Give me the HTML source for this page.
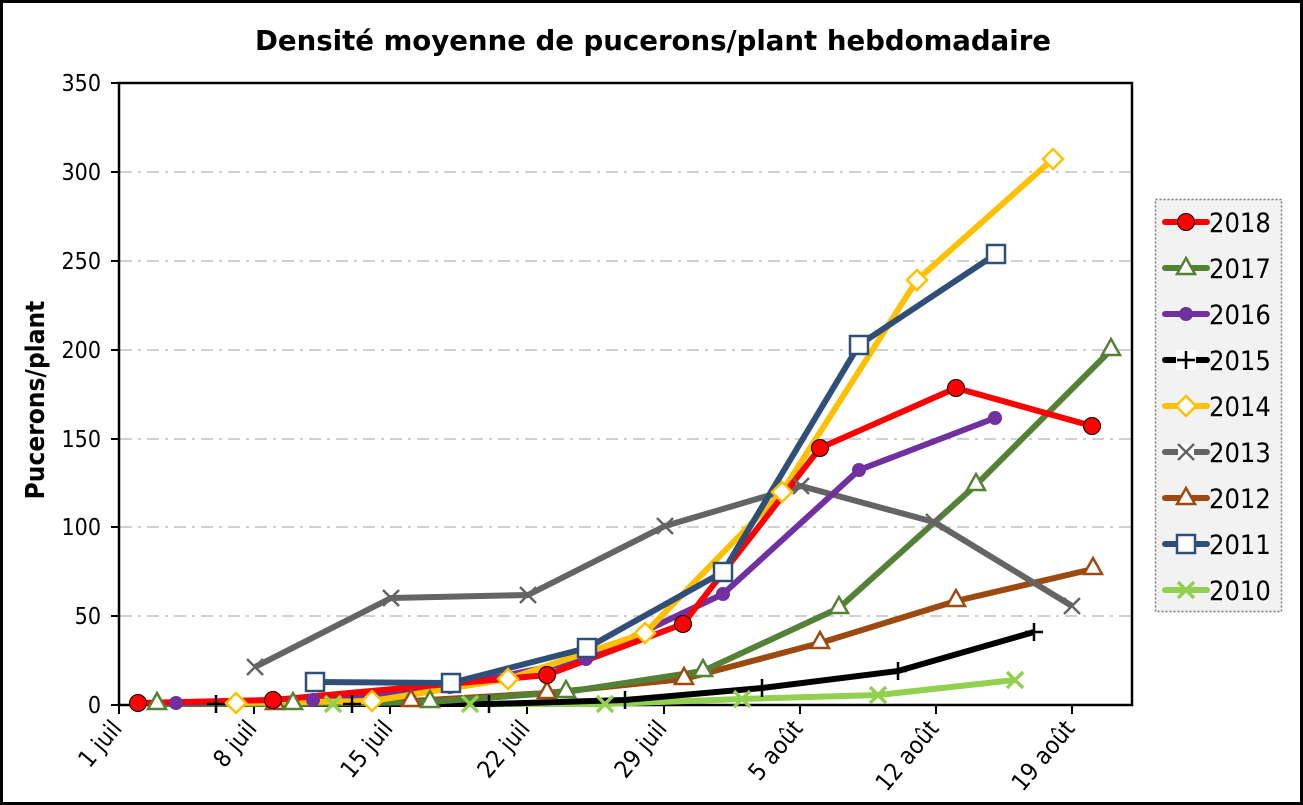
<!DOCTYPE html>
<html><head><meta charset="utf-8"><style>
html,body{margin:0;padding:0;background:#fff}
svg{display:block}
text{font-family:"DejaVu Sans Condensed","DejaVu Sans","Liberation Sans",sans-serif}
</style></head><body>
<svg width="1303" height="805" viewBox="0 0 1303 805" xmlns="http://www.w3.org/2000/svg">
<rect x="1.5" y="1.5" width="1300" height="802" fill="#fff" stroke="#000" stroke-width="3"/>
<text x="653" y="50" text-anchor="middle" font-size="28" font-weight="bold" textLength="796" lengthAdjust="spacingAndGlyphs">Densité moyenne de pucerons/plant hebdomadaire</text>
<g stroke="#d0d0d0" stroke-width="2" stroke-dasharray="12,6,3,6">
<line x1="120" x2="1132" y1="172" y2="172"/>
<line x1="120" x2="1132" y1="261" y2="261"/>
<line x1="120" x2="1132" y1="350" y2="350"/>
<line x1="120" x2="1132" y1="439" y2="439"/>
<line x1="120" x2="1132" y1="527" y2="527"/>
<line x1="120" x2="1132" y1="616" y2="616"/>
</g>
<rect x="119" y="83" width="1013" height="622" fill="none" stroke="#000" stroke-width="2.5"/>
<g stroke="#000" stroke-width="2">
<line x1="111" x2="119" y1="83" y2="83"/><line x1="111" x2="119" y1="172" y2="172"/>
<line x1="111" x2="119" y1="261" y2="261"/><line x1="111" x2="119" y1="350" y2="350"/>
<line x1="111" x2="119" y1="439" y2="439"/><line x1="111" x2="119" y1="527" y2="527"/>
<line x1="111" x2="119" y1="616" y2="616"/><line x1="111" x2="119" y1="705" y2="705"/>
<line x1="119" x2="119" y1="705" y2="714"/><line x1="254" x2="254" y1="705" y2="714"/>
<line x1="390" x2="390" y1="705" y2="714"/><line x1="527" x2="527" y1="705" y2="714"/>
<line x1="664" x2="664" y1="705" y2="714"/><line x1="800" x2="800" y1="705" y2="714"/>
<line x1="936" x2="936" y1="705" y2="714"/><line x1="1072" x2="1072" y1="705" y2="714"/>
</g>
<g font-size="23" text-anchor="end">
<text x="101" y="91">350</text><text x="101" y="180">300</text><text x="101" y="269">250</text>
<text x="101" y="358">200</text><text x="101" y="447">150</text><text x="101" y="535">100</text>
<text x="101" y="624">50</text><text x="101" y="713">0</text>
</g>
<text transform="translate(44,400) rotate(-90)" text-anchor="middle" font-size="26" font-weight="bold">Pucerons/plant</text>
<g font-size="24" text-anchor="end">
<text transform="translate(123,729) rotate(-50)">1 juil</text>
<text transform="translate(258,729) rotate(-50)">8 juil</text>
<text transform="translate(394,729) rotate(-50)">15 juil</text>
<text transform="translate(531,729) rotate(-50)">22 juil</text>
<text transform="translate(668,729) rotate(-50)">29 juil</text>
<text transform="translate(804,729) rotate(-50)">5 août</text>
<text transform="translate(940,729) rotate(-50)">12 août</text>
<text transform="translate(1076,729) rotate(-50)">19 août</text>
</g>
<g fill="none" stroke-width="6" stroke-linejoin="round">
<polyline stroke="#92d050" points="333,704 470,704 605,704 742,699 878,695 1015,680"/>
<polyline stroke="#9c4a10" points="275,704 411,701 547,693 684,679 820,643 956,601 1093,569"/>
<polyline stroke="#000" points="216,704 352,704 489,704 625,700 762,688 898,671 1034,632"/>
<polyline stroke="#538135" points="157,704 293,704 430,702 566,692 703,671 839,608 976,485 1111,350"/>
<polyline stroke="#646464" points="255,667 391,598 528,595 665,526 801,486 934,522 1072,606"/>
<polyline stroke="#7030a0" points="176,703 313,700 450,687 586,659 723,594 859,470 995,418"/>
<polyline stroke="#ffc000" points="236,703 372,701 508,679 645,633 782,492 917,280 1053,159"/>
<polyline stroke="#ff0000" points="138,703 273,700 547,675 683,624 820,448 956,388 1092,426"/>
<polyline stroke="#2f4f78" points="315,682 451,683 587,648 723,572 859,345 996,254"/>
</g>
<g stroke="#92d050" stroke-width="3.5">
<path d="M325,696l16,16M341,696l-16,16M462,696l16,16M478,696l-16,16M597,696l16,16M613,696l-16,16M734,691l16,16M750,691l-16,16M870,687l16,16M886,687l-16,16M1007,672l16,16M1023,672l-16,16"/>
</g>
<g fill="#fff" stroke="#9c4a10" stroke-width="2.5">
<path d="M275,693l9,16h-18z"/><path d="M411,690l9,16h-18z"/><path d="M547,682l9,16h-18z"/><path d="M684,668l9,16h-18z"/><path d="M820,632l9,16h-18z"/><path d="M956,590l9,16h-18z"/><path d="M1093,558l9,16h-18z"/>
</g>
<g stroke="#000" stroke-width="2.5">
<path d="M207,704h18M216,695v18M343,704h18M352,695v18M480,704h18M489,695v18M616,700h18M625,691v18M753,688h18M762,679v18M889,671h18M898,662v18M1025,632h18M1034,623v18"/>
</g>
<g fill="#fff" stroke="#538135" stroke-width="2.5">
<path d="M157,693l9,16h-18z"/><path d="M293,693l9,16h-18z"/><path d="M430,691l9,16h-18z"/><path d="M566,681l9,16h-18z"/><path d="M703,660l9,16h-18z"/><path d="M839,597l9,16h-18z"/><path d="M976,474l9,16h-18z"/><path d="M1111,339l9,16h-18z"/>
</g>
<g stroke="#646464" stroke-width="2.5">
<path d="M247,659l16,16M263,659l-16,16M383,590l16,16M399,590l-16,16M520,587l16,16M536,587l-16,16M657,518l16,16M673,518l-16,16M793,478l16,16M809,478l-16,16M926,514l16,16M942,514l-16,16M1064,598l16,16M1080,598l-16,16"/>
</g>
<g fill="#7030a0">
<circle cx="176" cy="703" r="7" /><circle cx="313" cy="700" r="7"/><circle cx="450" cy="687" r="7"/><circle cx="586" cy="659" r="7"/><circle cx="723" cy="594" r="7"/><circle cx="859" cy="470" r="7"/><circle cx="995" cy="418" r="7"/>
</g>
<g fill="#fff" stroke="#ffc000" stroke-width="2.5">
<path d="M236,693l10,10-10,10-10-10z"/><path d="M372,691l10,10-10,10-10-10z"/><path d="M508,669l10,10-10,10-10-10z"/><path d="M645,623l10,10-10,10-10-10z"/><path d="M782,482l10,10-10,10-10-10z"/><path d="M917,270l10,10-10,10-10-10z"/><path d="M1053,149l10,10-10,10-10-10z"/>
</g>
<g fill="#ff0000" stroke="#000" stroke-width="1">
<circle cx="138" cy="703" r="8.5"/><circle cx="273" cy="700" r="8.5"/><circle cx="547" cy="675" r="8.5"/><circle cx="683" cy="624" r="8.5"/><circle cx="820" cy="448" r="8.5"/><circle cx="956" cy="388" r="8.5"/><circle cx="1092" cy="426" r="8.5"/>
</g>
<g fill="#fff" stroke="#2f4f78" stroke-width="2.5">
<rect x="306" y="673" width="18" height="18"/><rect x="442" y="674" width="18" height="18"/><rect x="578" y="639" width="18" height="18"/><rect x="714" y="563" width="18" height="18"/><rect x="850" y="336" width="18" height="18"/><rect x="987" y="245" width="18" height="18"/>
</g>
<rect x="1155.5" y="199.5" width="126" height="412" fill="#f2f2f2" stroke="#777" stroke-width="1.5" stroke-dasharray="2,2"/>
<g stroke-width="6" fill="none" stroke-linecap="round">
<line x1="1165" x2="1207" y1="222" y2="222" stroke="#ff0000"/>
<line x1="1165" x2="1207" y1="268" y2="268" stroke="#538135"/>
<line x1="1165" x2="1207" y1="314" y2="314" stroke="#7030a0"/>
<line x1="1165" x2="1207" y1="360" y2="360" stroke="#000"/>
<line x1="1165" x2="1207" y1="406" y2="406" stroke="#ffc000"/>
<line x1="1165" x2="1207" y1="452" y2="452" stroke="#646464"/>
<line x1="1165" x2="1207" y1="498" y2="498" stroke="#9c4a10"/>
<line x1="1165" x2="1207" y1="544" y2="544" stroke="#2f4f78"/>
<line x1="1165" x2="1207" y1="590" y2="590" stroke="#92d050"/>
</g>
<circle cx="1186" cy="222" r="8.5" fill="#ff0000" stroke="#000"/>
<path d="M1186,258l9,16h-18z" fill="#fff" stroke="#538135" stroke-width="2.5"/>
<circle cx="1186" cy="314" r="7" fill="#7030a0"/>
<rect x="1176" y="350" width="20" height="20" fill="#fff"/>
<path d="M1177,360h18M1186,351v18" stroke="#000" stroke-width="2.5"/>
<path d="M1186,396l10,10-10,10-10-10z" fill="#fff" stroke="#ffc000" stroke-width="2.5"/>
<rect x="1178" y="444" width="16" height="16" fill="#fff"/>
<path d="M1178,444l16,16M1194,444l-16,16" stroke="#646464" stroke-width="2.5"/>
<path d="M1186,488l9,16h-18z" fill="#fff" stroke="#9c4a10" stroke-width="2.5"/>
<rect x="1177" y="535" width="18" height="18" fill="#fff" stroke="#2f4f78" stroke-width="2.5"/>
<path d="M1178,582l16,16M1194,582l-16,16" stroke="#92d050" stroke-width="3.5"/>
<g font-size="27">
<text x="1209" y="232">2018</text><text x="1209" y="278">2017</text><text x="1209" y="324">2016</text>
<text x="1209" y="370">2015</text><text x="1209" y="416">2014</text><text x="1209" y="462">2013</text>
<text x="1209" y="508">2012</text><text x="1209" y="554">2011</text><text x="1209" y="600">2010</text>
</g>
</svg>
</body></html>
